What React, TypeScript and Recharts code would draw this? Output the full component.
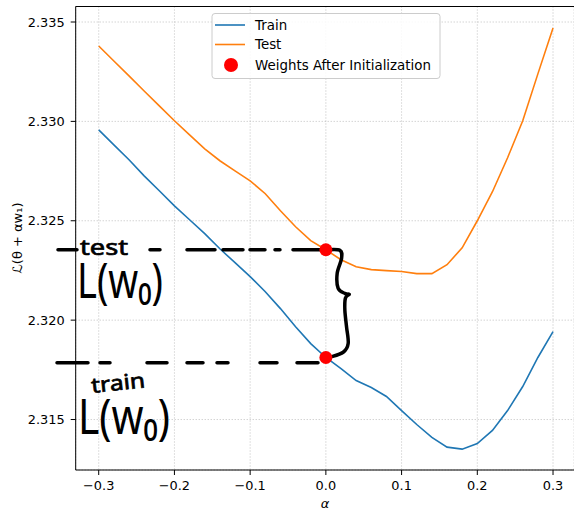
import React from "react"
import {
  ComposedChart,
  Line,
  Scatter,
  XAxis,
  YAxis,
  CartesianGrid,
  ReferenceLine,
  Customized,
} from "recharts"

// loss surface along the direction w1
const alphas = [
  -0.3, -0.28, -0.26, -0.24, -0.22, -0.2, -0.18, -0.16, -0.14, -0.12, -0.1, -0.08, -0.06, -0.04, -0.02, 0,
  0.02, 0.04, 0.06, 0.08, 0.1, 0.12, 0.14, 0.16, 0.18, 0.2, 0.22, 0.24, 0.26, 0.28, 0.3,
]
const trainLoss = [
  2.32957, 2.32882, 2.32807, 2.32726, 2.32651, 2.32575, 2.32505, 2.32435, 2.32359, 2.32289, 2.32219, 2.32143,
  2.32058, 2.31967, 2.31882, 2.31812, 2.31756, 2.31696, 2.31661, 2.31616, 2.31545, 2.31475, 2.3141, 2.31361,
  2.31351, 2.31379, 2.31445, 2.31545, 2.31666, 2.31812, 2.31942,
]
const testLoss = [
  2.33379, 2.33304, 2.33229, 2.33153, 2.33078, 2.33003, 2.32932, 2.32862, 2.32802, 2.32751, 2.32701, 2.32636,
  2.3255, 2.3247, 2.324, 2.32354, 2.32304, 2.32269, 2.32254, 2.32249, 2.32245, 2.32234, 2.32234, 2.32279,
  2.32364, 2.325, 2.32646, 2.32817, 2.33003, 2.33239, 2.3347,
]
const initAlpha = 0
const initTrain = 2.31812
const initTest = 2.32354

const xTicks = [-0.3, -0.2, -0.1, 0, 0.1, 0.2, 0.3]
const yTicks = [2.315, 2.32, 2.325, 2.33, 2.335]
const xDomain = [-0.3304, 0.3277]
const yDomain = [2.31246, 2.33578]

const trainData = alphas.map((x, i) => ({ x, y: trainLoss[i] }))
const testData = alphas.map((x, i) => ({ x, y: testLoss[i] }))
const initData = [
  { x: initAlpha, y: initTest },
  { x: initAlpha, y: initTrain },
]

const BLUE = "#1f77b4"
const ORANGE = "#ff7f0e"
const FONT = "DejaVu Sans, Verdana, sans-serif"
const HAND = "Noto Sans, DejaVu Sans, sans-serif"

const fmtX = (v: number) => (v < 0 ? "\u2212" : "") + Math.abs(v).toFixed(1)
const fmtY = (v: number) => v.toFixed(3)

// brace drawn by hand: dx in px from the dots, f = fraction of the gap between them
const braceTop = [
  [0.7, 0], [14, 0.005], [15.7, 0.079], [11.3, 0.219], [12.3, 0.358], [19, 0.405], [23.3, 0.414],
]
const braceBottom = [
  [23, 0.414], [19.5, 0.45], [19, 0.563], [20.7, 0.718], [22.3, 0.87], [17.3, 0.951], [4, 0.997],
]

function smooth(pts: number[][]) {
  let d = `M${pts[0][0]},${pts[0][1]}`
  for (let i = 0; i < pts.length - 1; i++) {
    const p0 = pts[i - 1] || pts[i]
    const p1 = pts[i]
    const p2 = pts[i + 1]
    const p3 = pts[i + 2] || p2
    const c1x = p1[0] + (p2[0] - p0[0]) / 6
    const c1y = p1[1] + (p2[1] - p0[1]) / 6
    const c2x = p2[0] - (p3[0] - p1[0]) / 6
    const c2y = p2[1] - (p3[1] - p1[1]) / 6
    d += ` C${c1x},${c1y} ${c2x},${c2y} ${p2[0]},${p2[1]}`
  }
  return d
}

function Brace(props: any) {
  const { x1, y1, y2 } = props
  const h = y2 - y1
  const place = (p: number[][]) => p.map(([dx, f]) => [x1 + dx, y1 + f * h])
  return (
    <g fill="none" stroke="#000" strokeWidth={3.5} strokeLinecap="round" strokeLinejoin="round">
      <path d={smooth(place(braceTop))} />
      <path d={smooth(place(braceBottom))} />
    </g>
  )
}

function HandNotes() {
  return (
    <g fill="#000" fontFamily={HAND}>
      <text x={80} y={255} fontSize={22} stroke="#000" strokeWidth={0.7} textLength={48} lengthAdjust="spacingAndGlyphs">
        test
      </text>
      <text x={77} y={298} fontSize={49} textLength={86} lengthAdjust="spacingAndGlyphs">
        L(w₀)
      </text>
      <text x={92} y={393} fontSize={21} stroke="#000" strokeWidth={0.7} textLength={54} lengthAdjust="spacingAndGlyphs" transform="rotate(-6 92 393)">
        train
      </text>
      <text x={78} y={434} fontSize={49} textLength={92} lengthAdjust="spacingAndGlyphs">
        L(w₀)
      </text>
    </g>
  )
}

function AxisLabels() {
  return (
    <g fontFamily={FONT} fill="#000">
      <text x={17} y={238} fontSize={13} textAnchor="middle" dominantBaseline="central" transform="rotate(-90 17 238)">
        ℒ(θ + αw₁)
      </text>
      <text x={325} y={503} fontSize={13} fontStyle="italic" textAnchor="middle" dominantBaseline="central">
        α
      </text>
    </g>
  )
}

function LegendBox() {
  return (
    <g fontFamily={FONT} fontSize={13.4} fill="#000">
      <rect x={212} y={13.5} width={228} height={65} rx={3} fill="#fff" fillOpacity={0.85} stroke="#cccccc" />
      <line x1={215} x2={245} y1={25} y2={25} stroke={BLUE} strokeWidth={1.6} />
      <text x={255} y={25} dominantBaseline="central">Train</text>
      <line x1={215} x2={245} y1={44.5} y2={44.5} stroke={ORANGE} strokeWidth={1.6} />
      <text x={255} y={44.5} dominantBaseline="central">Test</text>
      <circle cx={231} cy={65} r={7} fill="#ff0000" />
      <text x={255} y={65} dominantBaseline="central">Weights After Initialization</text>
    </g>
  )
}

export default function App() {
  return (
    <div style={{ position: "fixed", left: 0, top: 0, width: 574, height: 509, background: "#fff" }}>
      <ComposedChart width={574} height={509} margin={{ top: 6.5, right: 0, bottom: 0, left: 0 }}>
        <CartesianGrid stroke="#b0b0b0" strokeWidth={0.8} strokeDasharray="1 2" />
        <XAxis
          type="number"
          dataKey="x"
          domain={xDomain}
          allowDataOverflow
          ticks={xTicks}
          tickFormatter={fmtX}
          height={39}
          stroke="#000"
          tickSize={5}
          tickMargin={5.5}
          tick={{ fill: "#000", fontSize: 12.9, fontFamily: FONT }}
        />
        <YAxis
          type="number"
          dataKey="y"
          domain={yDomain}
          allowDataOverflow
          ticks={yTicks}
          tickFormatter={fmtY}
          width={75.7}
          stroke="#000"
          tickSize={5}
          tickMargin={6}
          tick={{ fill: "#000", fontSize: 12.9, fontFamily: FONT }}
        />
        <ReferenceLine y={yDomain[1]} stroke="#000" />
        <Line data={trainData} dataKey="y" stroke={BLUE} strokeWidth={1.6} dot={false} isAnimationActive={false} />
        <Line data={testData} dataKey="y" stroke={ORANGE} strokeWidth={1.6} dot={false} isAnimationActive={false} />
        <ReferenceLine
          segment={[
            { x: -0.3538, y: initTest },
            { x: -0.0077, y: initTest },
          ]}
          ifOverflow="visible"
          stroke="#000"
          strokeWidth={3.5}
          strokeLinecap="round"
          strokeDasharray="19 73 10 27 28 8 20 7 15 10 5 13 30"
        />
        <ReferenceLine
          segment={[
            { x: -0.3551, y: initTrain - 0.00026 },
            { x: -0.0104, y: initTrain - 0.00026 },
          ]}
          ifOverflow="visible"
          stroke="#000"
          strokeWidth={3.5}
          strokeLinecap="round"
          strokeDasharray="31 12 10 37 20 20 16 14 11 32 17 20 30"
        />
        <Scatter
          data={initData}
          dataKey="y"
          fill="#ff0000"
          isAnimationActive={false}
          shape={(p: any) => <circle cx={p.cx} cy={p.cy} r={6.5} fill="#ff0000" />}
        />
        <ReferenceLine
          segment={[
            { x: initAlpha, y: initTest },
            { x: initAlpha, y: initTrain },
          ]}
          ifOverflow="visible"
          shape={Brace}
        />
        <Customized component={HandNotes} />
        <Customized component={AxisLabels} />
        <Customized component={LegendBox} />
      </ComposedChart>
    </div>
  )
}
